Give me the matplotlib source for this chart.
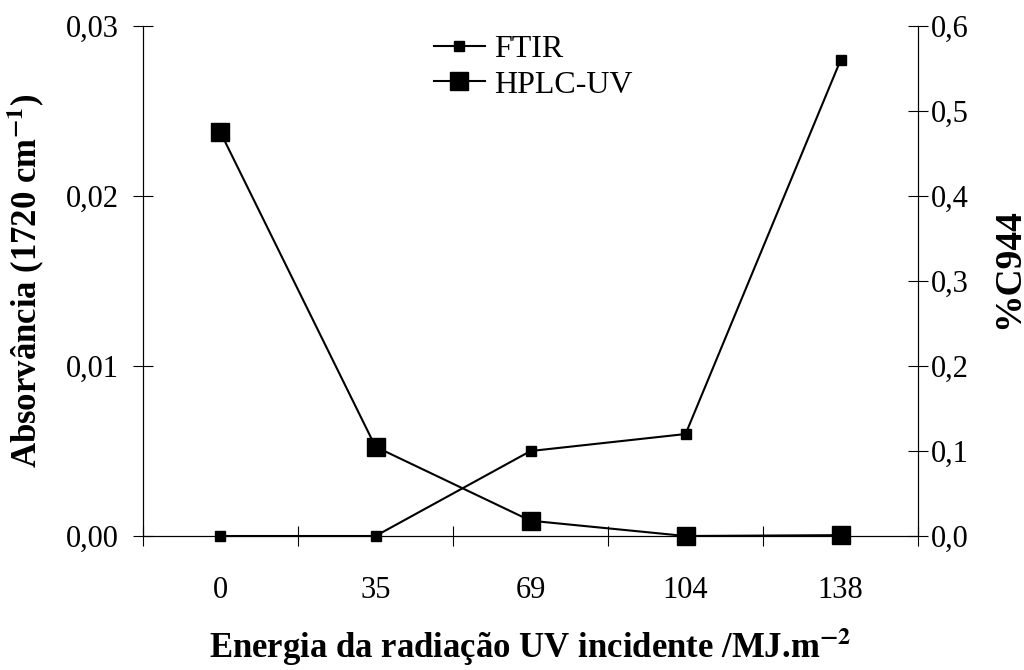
import matplotlib
matplotlib.use('Agg')
import matplotlib.pyplot as plt
from matplotlib.ticker import FixedLocator, FuncFormatter
import numpy as np

# Dados do ensaio de fotodegradação
energia = ['0', '35', '69', '104', '138']
ftir = [0.0, 0.0, 0.005, 0.006, 0.028]          # absorvância em 1720 cm-1
hplc = [0.475, 0.105, 0.018, 0.0, 0.001]        # % C944

plt.rcParams['font.family'] = ['Liberation Serif', 'DejaVu Serif']
plt.rcParams['mathtext.fontset'] = 'stix'

fig = plt.figure(figsize=(10.24, 6.7), dpi=100)
ax = fig.add_axes([0.1396, 0.2, 0.757, 0.761])
ax2 = ax.twinx()

x = np.arange(len(energia))

l1, = ax.plot(x, ftir, '-s', color='black', lw=1.5, markersize=6.5,
              clip_on=False, label='FTIR')
l2, = ax2.plot(x, hplc, '-s', color='black', lw=1.5, markersize=13.5,
               clip_on=False, label='HPLC-UV')

ax.set_xlim(-0.5, len(energia) - 0.5)
ax.set_ylim(0, 0.03)
ax2.set_ylim(0, 0.6)

# eixo x em categorias, marcas nos limites entre categorias
ax.set_xticks(x)
ax.set_xticklabels(energia)
ax.xaxis.set_minor_locator(FixedLocator(np.arange(-0.5, len(energia), 1.0)))
ax.tick_params(axis='x', which='major', length=0, pad=29, labelsize=22)
ax.tick_params(axis='x', which='minor', direction='inout', length=15, width=0.8)

ax.set_yticks([0, 0.01, 0.02, 0.03])
ax.yaxis.set_major_formatter(FuncFormatter(lambda v, p: f'{v:.2f}'.replace('.', ',')))
ax.tick_params(axis='y', direction='inout', length=15, width=0.8, pad=10, labelsize=22)

ax2.set_yticks(np.arange(0, 0.61, 0.1))
ax2.yaxis.set_major_formatter(FuncFormatter(lambda v, p: f'{v:.1f}'.replace('.', ',')))
ax2.tick_params(axis='y', direction='inout', length=15, width=0.8, pad=2, labelsize=22)

for a in (ax, ax2):
    a.spines['top'].set_visible(False)
    for s in ('left', 'right', 'bottom'):
        a.spines[s].set_linewidth(0.8)

ax.set_xlabel('Energia da radiação UV incidente /MJ.m$^{\\mathbf{-2}}$',
              fontsize=25, fontweight='bold', labelpad=15)
ax.set_ylabel('Absorvância (1720 cm$^{\\mathbf{-1}}$)', fontsize=25,
              fontweight='bold', labelpad=14)
ax2.set_ylabel('%C944', fontsize=27, fontweight='bold')
ax2.yaxis.set_label_coords(1.094, 0.525)

ax.legend(handles=[l1, l2], loc='upper left', bbox_to_anchor=(0.338, 1.04),
          frameon=False, fontsize=23, handlelength=1.6, handletextpad=0.3,
          labelspacing=0.2)

fig.savefig('out.png', dpi=100)
